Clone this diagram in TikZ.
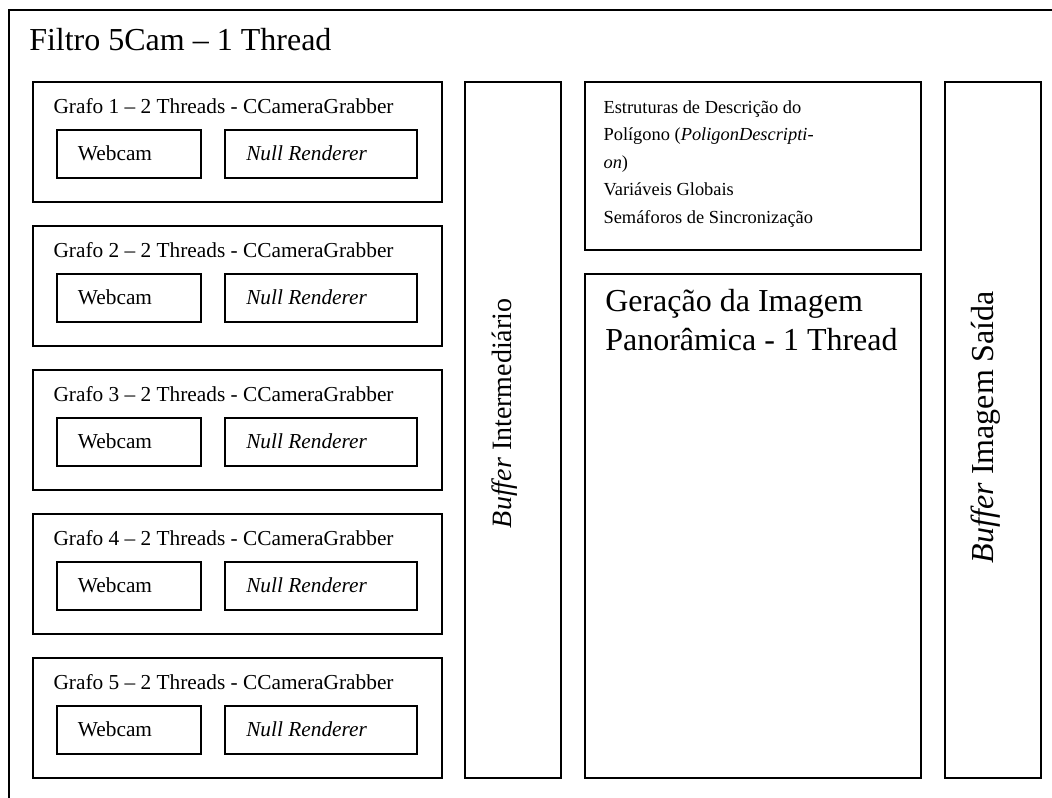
\documentclass[tikz,border=0pt]{standalone}
\usepackage{fontspec}
\setmainfont{Liberation Serif}
\usetikzlibrary{fit}
\tikzset{
  box/.style={draw, line width=1.3pt, inner sep=0pt},
  lbl/.style={inner sep=0pt, anchor=base west},
  big/.style={font=\fontsize{24}{28.7}\selectfont},
  mid/.style={font=\fontsize{16}{19}\selectfont},
}
\begin{document}
\begin{tikzpicture}[x=0.75pt,y=-0.75pt]
\useasboundingbox (0,0) rectangle (1052,797);

% outer filter frame (runs past the page on the right and bottom)
\node[box, fit={(9,10) (1070,815)}] (filtro) {};
\node[lbl, big] (titulo) at (29,50) {Filtro 5Cam – 1 Thread};

% five capture graphs
\foreach \i in {1,...,5} {
  \pgfmathsetmacro\t{81.7+144*(\i-1)}
  \node[box, fit={(32.7,\t) (441.7,\t+120)}] (grafo\i) {};
  \node[lbl, mid] (gt\i) at (53.3,\t+31.6) {Grafo \i{} – 2 Threads - CCameraGrabber};
  \node[box, fit={(56.7,\t+48.3) (201,\t+96)}] (webcam\i) {};
  \node[box, fit={(225,\t+48.3) (417.3,\t+96)}] (null\i) {};
  \node[lbl, mid] (wt\i) at (77.7,\t+78.3) {Webcam};
  \node[lbl, mid] (nt\i) at (246,\t+78.3) {\itshape Null Renderer};
}

% intermediate buffer
\node[box, fit={(465,82.3) (560.7,777.7)}] (bufint) {};
\node[lbl, rotate=90, font=\fontsize{21}{25}\selectfont] (bufintt) at (511.8,528.3)
  {\textit{Buffer} Intermediário};

% shared structures (anchored on the baseline of the last line)
\node[box, fit={(585,82.3) (921,250)}] (estr) {};
\node[lbl, align=left, font=\fontsize{13.8}{20.6}\selectfont] (estrt) at (603.3,223.3)
  {Estruturas de Descrição do\\
   Polígono (\textit{PoligonDescripti-}\\
   \textit{on})\\
   Variáveis Globais\\
   Semáforos de Sincronização};

% panoramic image generation
\node[box, fit={(585,274) (921,778)}] (geracao) {};
\node[lbl, big, align=left] (geracaot) at (605,350)
  {Geração da Imagem\\ Panorâmica - 1 Thread};

% output image buffer
\node[box, fit={(945,82.3) (1041,778)}] (bufsai) {};
\node[lbl, big, rotate=90] (bufsait) at (993.6,563.3) {\textit{Buffer} Imagem Saída};
\end{tikzpicture}
\end{document}
